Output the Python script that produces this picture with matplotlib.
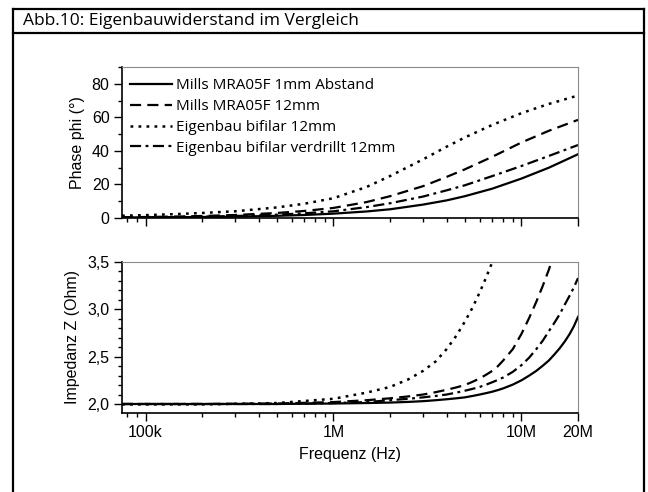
#Eigenbauwiderstand im Vergleich - Phase und Impedanz
import numpy as np
import matplotlib.pyplot as plt
from matplotlib.ticker import FixedLocator, FixedFormatter, MultipleLocator
from matplotlib.lines import Line2D

plt.rcParams['font.family'] = ['Liberation Sans', 'DejaVu Sans']

f_phase = [75e3, 100e3, 150e3, 200e3, 300e3, 500e3, 700e3, 1e6, 1.5e6, 2e6,
           3e6, 4e6, 5e6, 7e6, 10e6, 14e6, 20e6]
phi_mills_1mm = [0.3, 0.4, 0.5, 0.6, 0.8, 1.3, 1.8, 2.6, 3.9, 5.2,
                 8.0, 10.5, 13.0, 17.5, 23.5, 30.0, 38.0]
phi_mills_12mm = [0.4, 0.6, 0.9, 1.2, 1.8, 3.0, 4.2, 6.0, 9.5, 13.0,
                  19.0, 24.5, 29.0, 36.5, 45.0, 52.0, 58.5]
phi_bifilar = [1.4, 1.7, 2.4, 3.0, 4.0, 6.3, 8.5, 11.8, 18.5, 25.0,
               35.0, 42.5, 48.0, 55.5, 62.5, 68.0, 73.0]
phi_verdrillt = [0.3, 0.4, 0.6, 0.8, 1.2, 2.0, 2.8, 4.0, 6.5, 8.8,
                 12.8, 16.5, 19.5, 25.0, 31.0, 37.0, 43.5]

f_imp = [75e3, 100e3, 200e3, 500e3, 1e6, 1.5e6, 2e6, 2.5e6, 3e6, 3.5e6, 4e6,
         4.5e6, 5e6, 5.5e6, 6e6, 6.5e6, 7e6, 7.5e6, 8e6, 9e6, 10e6, 11e6,
         12e6, 13e6, 14e6, 15e6, 16e6, 17e6, 18e6, 19e6, 20e6]
z_mills_1mm = [2.0, 2.0, 2.0, 2.0, 2.005, 2.01, 2.015, 2.022, 2.03, 2.04, 2.05,
               2.06, 2.07, 2.085, 2.10, 2.115, 2.13, 2.147, 2.165, 2.205, 2.25, 2.30,
               2.35, 2.405, 2.46, 2.525, 2.59, 2.66, 2.735, 2.82, 2.92]
z_mills_12mm = [2.0, 2.0, 2.0, 2.005, 2.02, 2.04, 2.06, 2.08, 2.10, 2.125, 2.15,
                2.175, 2.20, 2.235, 2.27, 2.31, 2.35, 2.40, 2.46, 2.58, 2.74, 2.91,
                3.08, 3.25, 3.42, 3.60, 3.80, 4.0, 4.2, 4.4, 4.6]
z_bifilar = [1.995, 1.995, 1.995, 2.01, 2.055, 2.12, 2.18, 2.26, 2.35, 2.45, 2.58,
             2.72, 2.87, 3.02, 3.18, 3.34, 3.50, 3.67, 3.85, 4.2, 4.6, 5.0,
             5.4, 5.8, 6.2, 6.6, 7.0, 7.4, 7.8, 8.2, 8.6]
z_verdrillt = [2.0, 2.0, 2.0, 2.0, 2.01, 2.02, 2.04, 2.055, 2.07, 2.085, 2.10,
               2.12, 2.14, 2.16, 2.18, 2.205, 2.23, 2.255, 2.28, 2.34, 2.41, 2.49,
               2.58, 2.67, 2.77, 2.86, 2.95, 3.05, 3.14, 3.23, 3.33]

labels = ['Mills MRA05F 1mm Abstand', 'Mills MRA05F 12mm',
          'Eigenbau bifilar 12mm', 'Eigenbau bifilar verdrillt 12mm']
x_ticks = [1e5, 1e6, 1e7, 2e7]
x_ticklabels = ['100k', '1M', '10M', '20M']
phi_ticks = [0, 20, 40, 60, 80]
z_ticks = [2.0, 2.5, 3.0, 3.5]
z_ticklabels = ['2,0', '2,5', '3,0', '3,5']

styles = ['-', (0, (5, 2.8)), (0, (1.1, 2.1)), (0, (5, 2, 1.3, 2))]
widths = [1.6, 1.6, 1.8, 1.6]

#setting up plot
fig = plt.figure(figsize=(6.48, 4.92), dpi=100)
ax1 = fig.add_axes([0.1883, 0.5569, 0.7037, 0.3069])
ax2 = fig.add_axes([0.1883, 0.1606, 0.7037, 0.3069], sharex=ax1)

phis = [phi_mills_1mm, phi_mills_12mm, phi_bifilar, phi_verdrillt]
zs = [z_mills_1mm, z_mills_12mm, z_bifilar, z_verdrillt]
for i in range(4):
    ax1.plot(f_phase, phis[i], color='k', lw=widths[i], linestyle=styles[i], label=labels[i])
    ax2.plot(f_imp, zs[i], color='k', lw=widths[i], linestyle=styles[i])

ax1.set_xscale('log')
ax1.set_xlim(75e3, 2e7)
minor = [m * 10**e for e in range(4, 8) for m in range(2, 10)]
minor = [v for v in minor if 75e3 <= v < 2e7]
for ax in (ax1, ax2):
    ax.xaxis.set_major_locator(FixedLocator(x_ticks))
    ax.xaxis.set_minor_locator(FixedLocator(minor))
    ax.tick_params(which='major', direction='out', length=5.5, width=1, labelsize=11.5)
    ax.tick_params(which='minor', direction='out', length=3, width=1)
    ax.spines['top'].set_color('#8a8a8a')
    ax.spines['right'].set_color('#8a8a8a')
    ax.spines['left'].set_linewidth(1.2)
    ax.spines['bottom'].set_linewidth(1.2)
ax1.tick_params(axis='x', which='both', labelbottom=False)
ax2.xaxis.set_major_formatter(FixedFormatter(x_ticklabels))

ax1.set_ylim(0, 90)
ax1.yaxis.set_major_locator(FixedLocator(phi_ticks))
ax1.yaxis.set_minor_locator(MultipleLocator(10))
ax1.set_ylabel('Phase phi (°)', fontsize=11.5, labelpad=5)

ax2.set_ylim(1.905, 3.5)
ax2.yaxis.set_major_locator(FixedLocator(z_ticks))
ax2.yaxis.set_major_formatter(FixedFormatter(z_ticklabels))
ax2.yaxis.set_minor_locator(MultipleLocator(0.1))
ax2.set_ylabel('Impedanz Z (Ohm)', fontsize=11.5, labelpad=5)
ax2.set_xlabel('Frequenz (Hz)', fontsize=11.5, labelpad=5)

leg = ax1.legend(loc='upper left', bbox_to_anchor=(0.0, 0.975), frameon=False,
                 handlelength=2.8, handletextpad=0.25, labelspacing=0.38,
                 borderaxespad=0.1, prop={'family': 'Open Sans', 'size': 11})

#Rahmen mit Titelleiste
def fx(px):
    return px / 648.0
def fy(py):
    return 1 - py / 492.0
frame_kw = dict(color='k', lw=1.6, solid_capstyle='projecting')
fig.add_artist(Line2D([fx(13), fx(644)], [fy(9), fy(9)], **frame_kw))
fig.add_artist(Line2D([fx(13), fx(644)], [fy(33), fy(33)], **frame_kw))
fig.add_artist(Line2D([fx(13), fx(13)], [fy(9), fy(495)], **frame_kw))
fig.add_artist(Line2D([fx(644), fx(644)], [fy(9), fy(495)], **frame_kw))
fig.text(fx(23), fy(21), 'Abb.10: Eigenbauwiderstand im Vergleich', fontsize=12.5,
         family='Open Sans', va='center', ha='left')

plt.savefig('out.png', dpi=100)
